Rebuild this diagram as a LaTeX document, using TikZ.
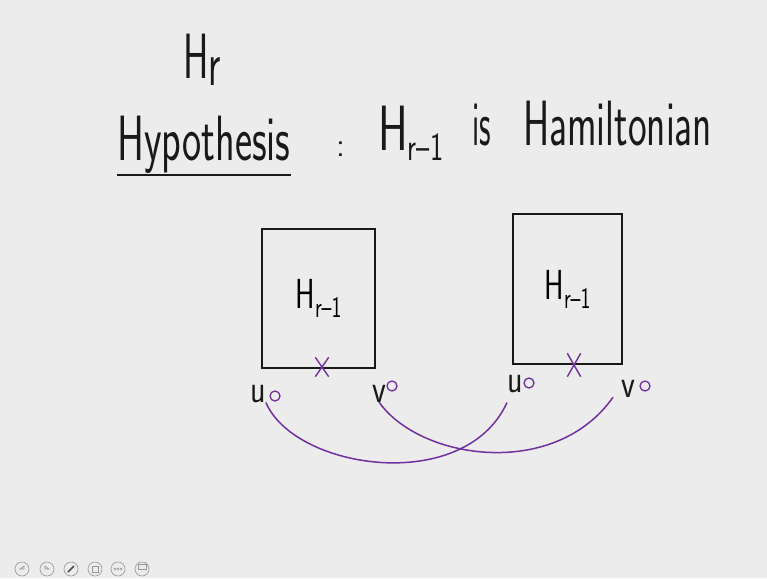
\documentclass[tikz,border=0pt]{standalone}
\usetikzlibrary{shapes.misc}
\usetikzlibrary{positioning}

\definecolor{slidebg}{RGB}{236,236,236}
\definecolor{inkpurple}{RGB}{112,48,160}
\definecolor{iconcol}{RGB}{150,150,150}
\newcommand{\handtxt}[2][0.62]{\scalebox{#1}[1]{#2}}

\begin{document}
\begin{tikzpicture}[x=1pt, y=-1pt,
  hand/.style={inner sep=0pt, anchor=base west, text=black!90,
    font=\sffamily\fontsize{64}{64}\selectfont},
  graphbox/.style={draw=black!90, line width=1.8pt, inner sep=0pt,
    font=\sffamily\fontsize{42}{42}\selectfont},
  vlabel/.style={inner sep=0pt, anchor=base west, text=black!90,
    font=\sffamily\fontsize{40}{40}\selectfont},
  vdot/.style={circle, draw=inkpurple, line width=1.3pt, inner sep=0pt, minimum size=10pt},
  edgemark/.style={cross out, draw=inkpurple, line width=1.4pt, inner sep=0pt,
    minimum width=12pt, minimum height=18pt},
  hamedge/.style={draw=inkpurple, line width=1.5pt},
  icon/.style={circle, draw=iconcol, line width=0.6pt, minimum size=14pt, inner sep=0pt}]
  % slide background
  \fill[slidebg] (0,0) rectangle (767,578);
  \useasboundingbox (0,0) rectangle (767,578);

  % Heading: H_r and the hypothesis
  \node[hand] (title) at (183,78) {\handtxt[0.6]{H\raisebox{-7pt}{r}}};
  \node[hand] (hyp) at (117,160) {\handtxt[0.635]{Hypothesis}};
  \draw[black!90, line width=1.6pt]
    ([yshift=-2pt]hyp.south west) -- ([yshift=-2pt]hyp.south east);
  \node[hand, font=\sffamily\fontsize{34}{34}\selectfont] (colon) at (336,156) {:};
  \node[hand] (hrm) at (378,150)
    {\handtxt[0.7]{H\raisebox{-10pt}{\fontsize{40}{40}\selectfont r--1}}};
  \node[hand] (is) at (472,145) {\handtxt[0.5]{is}};
  \node[hand] (ham) at (523,145) {\handtxt{Hamiltonian}};

  % Left copy of H_{r-1}
  \node[graphbox, minimum width=113pt, minimum height=139pt] (left) at (318.5,298.5)
    {\handtxt[0.7]{H\raisebox{-9pt}{\fontsize{30}{30}\selectfont r--1}}};
  \node[edgemark] (xl) at (322,367) {};
  \node[vlabel] (u1) at (250,402) {\handtxt[0.8]{u}};
  \node[vdot] (ou1) at (275,396) {};
  \node[vlabel] (v1) at (372,402) {\handtxt[0.8]{v}};
  \node[vdot] (ov1) at (392,386) {};

  % Right copy of H_{r-1}
  \node[graphbox, minimum width=109pt, minimum height=150pt] (right) at (567.5,289)
    {\handtxt[0.7]{H\raisebox{-9pt}{\fontsize{30}{30}\selectfont r--1}}};
  \node[edgemark, minimum height=22pt] (xr) at (574,365) {};
  \node[vlabel] (u2) at (507,392) {\handtxt[0.8]{u}};
  \node[vdot] (ou2) at (529,383) {};
  \node[vlabel] (v2) at (621,397) {\handtxt[0.8]{v}};
  \node[vdot] (ov2) at (645,386) {};

  % crossing edges u-u and v-v
  \draw[hamedge] (u1.south east) .. controls (295,470) and (465,495) .. ([yshift=-10pt]u2.south west);
  \draw[hamedge] (v1.south) .. controls (420,460) and (555,480) .. ([xshift=-8pt]v2.south west);

  % viewer toolbar
  \foreach \ix/\iname in {22/prev,47/next,71/pen,95/slide,118/more,142/screen}
    \node[icon] (\iname) at (\ix,569) {};
  \draw[iconcol, line width=0.6pt] ([xshift=2pt]prev.center) -- ++(-4,0) -- ++(4,-3) -- cycle;
  \draw[iconcol, line width=0.6pt] ([xshift=-2pt]next.center) -- ++(4,0) -- ++(-4,-3) -- cycle;
  \draw[black!70, line width=1.6pt] ([shift={(-3pt,-3pt)}]pen.center) -- ([shift={(3pt,3pt)}]pen.center);
  \draw[iconcol, line width=0.6pt] ([shift={(-3pt,-3pt)}]slide.center) rectangle ([shift={(3pt,3pt)}]slide.center);
  \foreach \dx in {-3,0,3}
    \draw[iconcol, line width=0.5pt] ([xshift=\dx pt]more.center) circle (1.1pt);
  \draw[iconcol, line width=0.6pt] ([shift={(-4pt,0pt)}]screen.center) rectangle ([shift={(4pt,5pt)}]screen.center);
\end{tikzpicture}
\end{document}
